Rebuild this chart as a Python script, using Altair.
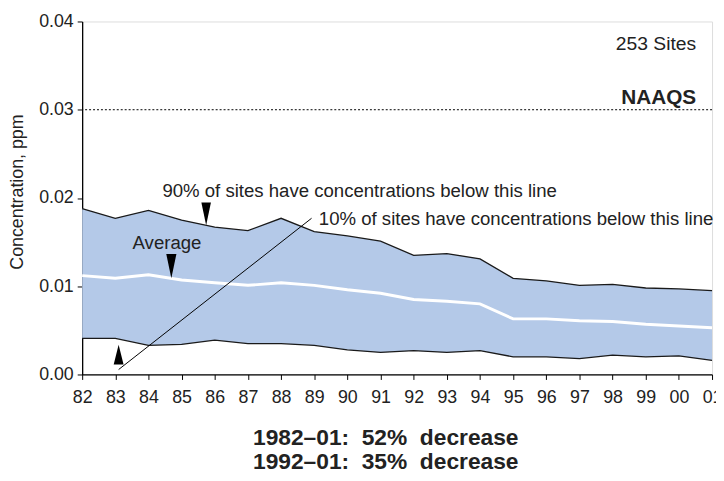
import altair as alt
import pandas as pd

years = list(range(1982, 2002))
p90 = [0.0188, 0.0177, 0.0186, 0.0175, 0.0167, 0.0163, 0.0177, 0.0162, 0.0157, 0.0151,
       0.0135, 0.0137, 0.0131, 0.0109, 0.0106, 0.0101, 0.0102, 0.0098, 0.0097, 0.0095]
avg = [0.0112, 0.0109, 0.0113, 0.0107, 0.0104, 0.0101, 0.0104, 0.0101, 0.0096, 0.0092,
       0.0085, 0.0083, 0.0080, 0.0063, 0.0063, 0.0061, 0.0060, 0.0057, 0.0055, 0.0053]
p10 = [0.0041, 0.0041, 0.0033, 0.0034, 0.0039, 0.0035, 0.0035, 0.0033, 0.0028, 0.0025,
       0.0027, 0.0025, 0.0027, 0.0020, 0.0020, 0.0018, 0.0022, 0.0020, 0.0021, 0.0016]
naaqs = 0.03
y_ticks = [0.0, 0.01, 0.02, 0.03, 0.04]

left_labels = ["90% of sites have concentrations below this line", "Average",
               "10% of sites have concentrations below this line"]
left_x = [1984.42, 1983.52, 1989.14]
left_y = [0.02084, 0.01487, 0.01756]

NB = "\u00a0"
summary_lines = ["1982\u201301:" + NB * 2 + "52%" + NB * 2 + "decrease",
                 "1992\u201301:" + NB * 2 + "35%" + NB * 2 + "decrease"]

FONT = "Liberation Sans"
df = pd.DataFrame({"year": years, "p90": p90, "avg": avg, "p10": p10})

xs = alt.Scale(domain=[1982, 2001], nice=False, zero=False)
ys = alt.Scale(domain=[0, 0.04], nice=False)

x_axis = alt.Axis(values=years, tickCount=20, labelExpr="slice(toString(datum.value), 2)",
                  grid=False, tickSize=5, tickColor="black", domainColor="black",
                  labelFontSize=18, labelFont=FONT, labelColor="#222", labelPadding=9,
                  labelFlush=False, labelOverlap=False, domainWidth=1.3, title=None)
y_axis = alt.Axis(values=y_ticks, format=".2f", grid=False, tickSize=5, tickColor="black",
                  domainColor="black", labelFontSize=18, labelFont=FONT, labelColor="#222",
                  labelPadding=4, title="Concentration, ppm", titleFontSize=18, titleFont=FONT,
                  titleFontWeight="normal", titleColor="#222", titlePadding=12, titleY=172,
                  domainWidth=1.3)


def X(field="year"):
    return alt.X(f"{field}:Q", scale=xs, axis=x_axis)


def Y(field="val"):
    return alt.Y(f"{field}:Q", scale=ys, axis=y_axis)


base = alt.Chart(df)
band = base.mark_area(color="#b4c9e8", opacity=1).encode(x=X(), y=Y("p10"), y2="p90:Q")
upper = base.mark_line(color="#1a1a1a", strokeWidth=1.3).encode(x=X(), y=Y("p90"))
lower = base.mark_line(color="#1a1a1a", strokeWidth=1.3).encode(x=X(), y=Y("p10"))
average = base.mark_line(color="white", strokeWidth=3).encode(x=X(), y=Y("avg"))

rule = alt.Chart(pd.DataFrame({"val": [naaqs]})).mark_rule(
    color="black", strokeDash=[2, 2], strokeWidth=1).encode(y=Y())

diag = alt.Chart(pd.DataFrame({"year": [1983.10], "val": [0.00056], "year2": [1988.92],
                               "val2": [0.0177]})).mark_rule(color="black", strokeWidth=1).encode(
    x=X(), y=Y(), x2="year2:Q", y2="val2:Q")

down = "M -0.42 -1 L 0.42 -1 L 0 1 Z"
up = "M -0.5 1 L 0.5 1 L 0 -1 Z"
tri = pd.DataFrame({
    "year": [1985.74, 1984.69, 1983.10],
    "val": [0.01820, 0.01229, 0.00225],
    "shape": [down, down, up],
    "size": [530, 600, 400],
})
triangles = alt.Chart(tri).mark_point(filled=True, color="black", opacity=1, strokeWidth=0).encode(
    x=X(), y=Y(),
    shape=alt.Shape("shape:N", scale=None),
    size=alt.Size("size:Q", scale=None),
)

ltext = alt.Chart(pd.DataFrame({"year": left_x, "val": left_y, "t": left_labels})).mark_text(
    align="left", baseline="middle", fontSize=18.8, font=FONT, color="#222").encode(
    x=X(), y=Y(), text="t:N")

sites = alt.Chart(pd.DataFrame({"year": [2000.52], "val": [0.03745], "t": ["253 Sites"]})).mark_text(
    align="right", baseline="middle", fontSize=19.5, font=FONT, color="#222").encode(
    x=X(), y=Y(), text="t:N")
naaqs_t = alt.Chart(pd.DataFrame({"year": [2000.52], "val": [0.03129], "t": ["NAAQS"]})).mark_text(
    align="right", baseline="middle", fontSize=21, font=FONT, fontWeight="bold", color="#222").encode(
    x=X(), y=Y(), text="t:N")

summary = alt.Chart(pd.DataFrame({"t": summary_lines, "py": [428.5, 453]})).mark_text(
    align="center", baseline="alphabetic", fontSize=23, font=FONT, fontWeight="bold",
    color="#222").encode(x=alt.value(307), y=alt.Y("py:Q", scale=None), text="t:N")

chart = alt.layer(band, upper, lower, average, rule, diag, triangles, ltext, sites, naaqs_t, summary
                  ).properties(
    width=637, height=357,
    autosize=alt.AutoSizeParams(type="none"),
    padding={"left": 75, "top": 11, "right": 4, "bottom": 97},
).configure_view(stroke="black", strokeWidth=1.3).configure(background="white")

chart.save("out.html", embed_options={"renderer": "svg", "actions": False})
